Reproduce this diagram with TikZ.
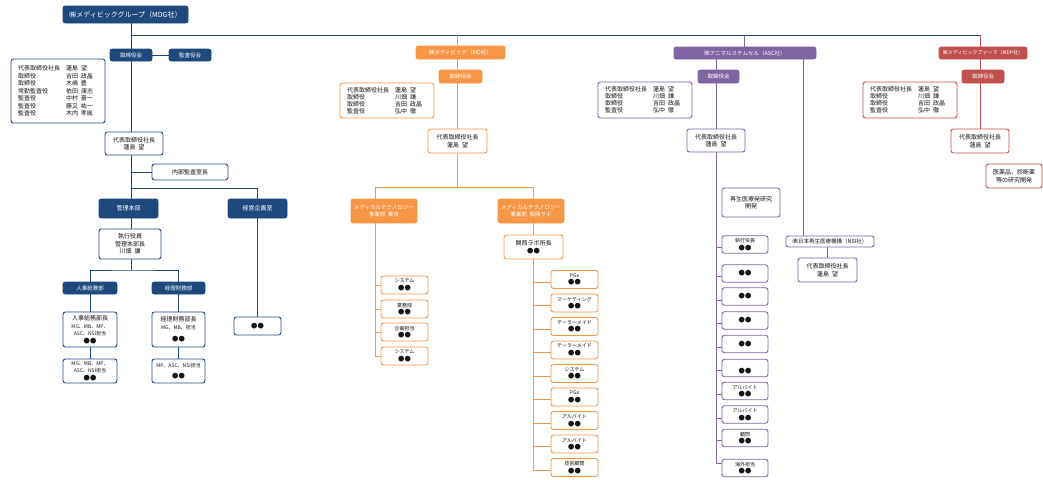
\documentclass[tikz,border=0pt]{standalone}
\usepackage{fontspec}
\setmainfont{Noto Sans CJK JP}
\usetikzlibrary{calc}
\pgfdeclarelayer{bg}
\pgfsetlayers{bg,main}
\definecolor{nv}{RGB}{31,73,125}
\definecolor{og}{RGB}{247,150,70}
\definecolor{pu}{RGB}{128,100,162}
\definecolor{rd}{RGB}{192,80,77}
\definecolor{tx}{RGB}{20,20,20}
\newcommand\dd{{\fontsize{6.3}{7}\selectfont ●●}}
\newcommand\fs[1]{\fontsize{#1}{#1}\selectfont}
\newcommand\nsp{\hspace{0.5em}}
\newcommand\rw[2]{\makebox[48pt][l]{#1}#2}
\newcommand\bx[7]{\node[#2, minimum width={(#5)-(#3)}, minimum height={(#6)-(#4)}] (#1) at ({((#3)+(#5))/2},{((#4)+(#6))/2}) {#7};}
\tikzset{
 bxs/.style={rounded corners=2.5pt, line width=0.9pt, inner sep=0pt, align=center, font=\fontsize{6}{7.5}\selectfont},
 fb/.style={bxs, fill=#1, draw=#1, text=white},
 wb/.style={bxs, fill=white, draw=#1, text=tx},
 cl/.style={draw=#1, line width=0.9pt},
 f5/.style={font=\fontsize{5}{7.5}\selectfont},
 f55/.style={font=\fontsize{5.5}{7}\selectfont},
 f7/.style={font=\fontsize{7}{8.5}\selectfont},
 mem/.style={wb=#1, align=left, text width=80pt, inner xsep=7pt, font=\fontsize{6}{7}\selectfont},
}
\begin{document}
\begin{tikzpicture}[x=1pt,y=-1pt]
\useasboundingbox (0,0) rectangle (1043,479);
% ---------- navy (MDG) ----------
\bx{mdg}{fb=nv,f7}{63}{6}{188}{23}{㈱メディビックグループ（MDG社）}
\bx{nbod}{fb=nv,f55}{110}{49}{152}{61}{取締役会}
\bx{naud}{fb=nv,f55}{169}{49}{211}{61}{監査役会}
\bx{nmem}{mem=nv,font=\fontsize{6}{7.5}\selectfont}{11}{59}{105}{123}{\rw{代表取締役社長}{蓮島\nsp 望}\\\rw{取締役}{吉田\nsp 政晶}\\\rw{取締役}{木嶋\nsp 豊}\\\rw{常勤監査役}{依田\nsp 康志}\\\rw{監査役}{中村\nsp 晋一}\\\rw{監査役}{藤又\nsp 祐一}\\\rw{監査役}{木内\nsp 孝胤}}
\bx{nceo}{wb=nv}{105}{132}{163}{155}{代表取締役社長\\蓮島\nsp 望}
\bx{naudit}{wb=nv}{152}{164}{228}{180}{内部監査室長}
\bx{nkanri}{fb=nv}{99}{199}{158}{218}{管理本部}
\bx{nkeiei}{fb=nv}{228}{199}{287}{218}{経営企画室}
\bx{nexec}{wb=nv}{99}{229}{161}{259}{執行役員\\管理本部長\\川畑\nsp 謙}
\bx{njinji}{fb=nv,f55}{63}{282}{117}{294}{人事総務部}
\bx{nkeiri}{fb=nv,f55}{152}{282}{205}{294}{経理財務部}
\bx{njh}{wb=nv}{63}{312}{117}{347}{人事総務部長\\\fs{5}MG、MB、MP、\\\fs{5}ASC、NSI担当\\\dd}
\bx{nkh}{wb=nv}{152}{312}{205}{347}{経理財務部長\\\fs{5}MG、MB、担当\\[5pt]\dd}
\bx{njs}{wb=nv}{63}{359}{117}{383}{\fs{5}MG、MB、MP、\\\fs{5}ASC、NSI担当\\\dd}
\bx{nks}{wb=nv}{152}{359}{205}{383}{\fs{5}MP、ASC、NSI担当\\[3pt]\dd}
\bx{nkes}{wb=nv}{234}{317}{281}{335}{\dd}
% ---------- orange (MD) ----------
\bx{md}{fb=og,f55}{416}{46}{505}{59}{㈱メディビック（MD社）}
\bx{mdbod}{fb=og,f55}{439}{70}{482}{83}{取締役会}
\bx{mdmem}{mem=og}{340}{83}{434}{118}{\rw{代表取締役社長}{蓮島\nsp 望}\\\rw{取締役}{川畑\nsp 謙}\\\rw{取締役}{吉田\nsp 政晶}\\\rw{監査役}{弘中\nsp 徹}}
\bx{mdceo}{wb=og}{428}{129}{487}{153}{代表取締役社長\\蓮島\nsp 望}
\bx{mtT}{fb=og,f55}{351}{199}{417}{223}{メディカルテクノロジー\\事業部\nsp 東京}
\bx{mtK}{fb=og,f55}{498}{199}{564}{223}{メディカルテクノロジー\\事業部\nsp 関西ラボ}
\bx{klab}{wb=og}{504}{235}{563}{259}{関西ラボ所長\\\dd}
\foreach \i/\y/\t in {1/285/システム,2/309/業務部,3/332/企画担当,4/356/システム}{
  \bx{oL\i}{wb=og,f5}{381}{\y-9}{428}{\y+9}{\t\\\dd}
}
\foreach \i/\t in {1/PGx,2/マーケティング,3/テーラーメイド,4/テーラーメイド,5/システム,6/PGx,7/アルバイト,8/アルバイト,9/技術顧問}{
  \bx{oR\i}{wb=og,f5}{551}{279.5+23.5*(\i-1)-9}{598}{279.5+23.5*(\i-1)+9}{\t\\\dd}
}
% ---------- purple (ASC) ----------
\bx{asc}{fb=pu,f55}{674}{47}{816}{59}{㈱アニマルステムセル（ASC社）}
\bx{ascbod}{fb=pu,f55}{698}{70}{739}{83}{取締役会}
\bx{ascmem}{mem=pu}{598}{82}{692}{118}{\rw{代表取締役社長}{蓮島\nsp 望}\\\rw{取締役}{川畑\nsp 謙}\\\rw{取締役}{吉田\nsp 政晶}\\\rw{監査役}{弘中\nsp 徹}}
\bx{ascceo}{wb=pu}{687}{129}{745}{152}{代表取締役社長\\蓮島\nsp 望}
\bx{regen}{wb=pu}{722}{188}{780}{217}{再生医療発研究\\開発}
\bx{nsi}{wb=pu,f55}{786}{236}{874}{247}{㈱日本再生医療機構（NSI社）}
\bx{nsiceo}{wb=pu}{798}{258}{857}{282}{代表取締役社長\\蓮島\nsp 望}
\foreach \i/\c/\t in {1/244.5/執行役員\\\dd,2/273.5/\dd,3/296.5/\dd,4/320.5/\dd,5/344/\dd,6/368/\phantom{ア}\\\dd,7/391/アルバイト\\\dd,8/414.5/アルバイト\\\dd,9/438/顧問\\\dd,10/468/海外担当\\\dd}{
  \bx{pc\i}{wb=pu,f5}{722}{\c-8.75}{768}{\c+8.75}{\t}
}
% ---------- red (MDP) ----------
\bx{mdp}{fb=rd,f5}{939}{47}{1027}{59}{㈱メディビックファーマ（MDP社）}
\bx{mdpbod}{fb=rd,f55}{962}{70}{1004}{83}{取締役会}
\bx{mdpmem}{mem=rd}{863}{82}{957}{118}{\rw{代表取締役社長}{蓮島\nsp 望}\\\rw{取締役}{川畑\nsp 謙}\\\rw{取締役}{吉田\nsp 政晶}\\\rw{監査役}{弘中\nsp 徹}}
\bx{mdpceo}{wb=rd}{951}{129}{1009}{153}{代表取締役社長\\蓮島\nsp 望}
\bx{rnd}{wb=rd}{986}{164}{1042}{188}{医薬品、診断薬\\等の研究開発}
% ---------- connectors ----------
\begin{pgfonlayer}{bg}
\coordinate (top0) at (131,35);
\coordinate (top1) at (980,35);
\draw[cl=nv] (top0) -- (top1);
\draw[cl=nv] (mdg.south -| top0) -- (nceo.north -| top0);
\draw[cl=nv] (nbod.east) -- (naud.west);
\draw[cl=nv] (nceo.south -| top0) -- (nkanri.north -| top0);
\draw[cl=nv] (naudit.west -| top0) -- (naudit.west);
\coordinate (j1) at (131,188);
\draw[cl=nv] (j1) -| (nkeiei.north);
\draw[cl=nv] (nkanri.south -| top0) -- (nexec.north -| top0);
\coordinate (j2) at (131,270);
\draw[cl=nv] (nexec.south -| top0) -- (j2);
\draw[cl=nv] (njinji.north) |- (j2) -| (nkeiri.north);
\draw[cl=nv] (njinji.south) -- (njh.north);
\draw[cl=nv] (njh.south) -- (njs.north);
\draw[cl=nv] (nkeiri.south) -- (nkh.north);
\draw[cl=nv] (nkh.south) -- (nks.north);
\draw[cl=nv] (nkeiei.south) -- (nkes.north);
% orange
\coordinate (ot) at (457,35);
\coordinate (oj) at (457,187);
\coordinate (ol) at (375,187);
\coordinate (or) at (533,187);
\coordinate (olb) at (375,356);
\coordinate (orb) at (533,471);
\draw[cl=og] (ot) -- (oj);
\draw[cl=og] (ol) -- (or);
\draw[cl=og] (ol) -- (olb);
\draw[cl=og] (or) -- (orb);
\foreach \i in {1,...,4}{\draw[cl=og] (oL\i.west) -- (oL\i.west -| ol);}
\foreach \i in {1,...,9}{\draw[cl=og] ($(oR\i.west)+(0,2.5)$) -- ($(oR\i.west -| or)+(0,2.5)$);}
% purple
\coordinate (pt) at (744,35);
\coordinate (ps) at (716,59);
\coordinate (psb) at (716,463);
\coordinate (p2) at (803,59);
\draw[cl=pu] (pt) -- (asc.north -| pt);
\draw[cl=pu] (ps) -- (psb);
\draw[cl=pu] (p2) -- (nsi.north -| p2);
\draw[cl=pu] (nsiceo.north) -- (nsiceo.north |- nsi.south);
\foreach \i/\b in {1/247,2/276,3/300,4/323,5/347,6/370,7/394,8/418,9/440,10/463}{
  \coordinate (by) at (0,\b);
  \draw[cl=pu] (by -| ps) -- (by -| pc\i.west);
}
% red
\draw[cl=rd] (top1) -- (mdpceo.north -| top1);
\end{pgfonlayer}
\end{tikzpicture}
\end{document}
